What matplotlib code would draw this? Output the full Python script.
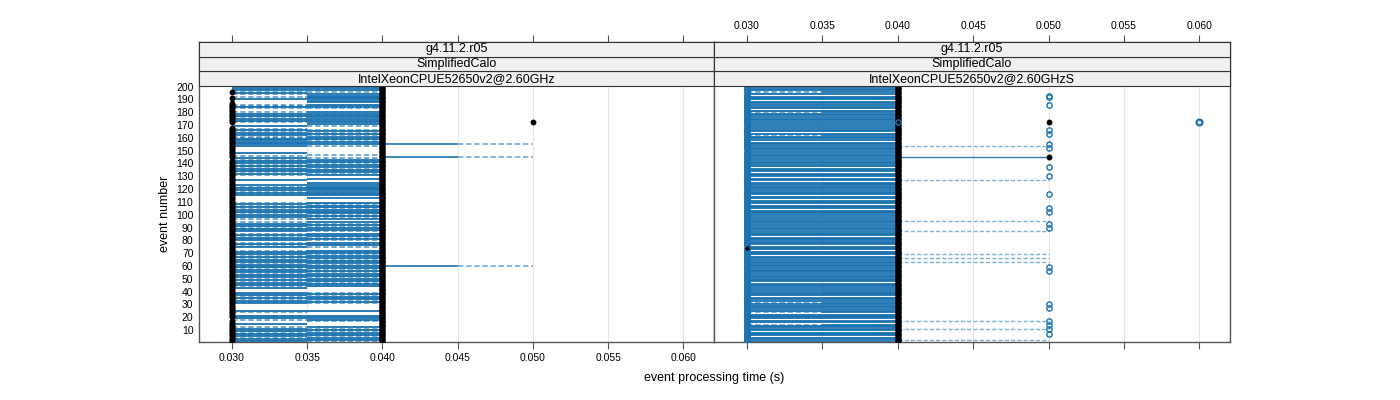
import numpy as np
import matplotlib
matplotlib.use("Agg")
import matplotlib.pyplot as plt
from matplotlib.patches import Rectangle
from matplotlib.ticker import FormatStrFormatter

plt.rcParams['font.family'] = ['Liberation Sans', 'DejaVu Sans']

# --- data ---
events = np.arange(1, 201)
strip_top = ["g4.11.2.r05", "g4.11.2.r05"]
strip_mid = ["SimplifiedCalo", "SimplifiedCalo"]
strip_cpu = ["IntelXeonCPUE52650v2@2.60GHz", "IntelXeonCPUE52650v2@2.60GHzS"]
x_ticks = [0.030, 0.035, 0.040, 0.045, 0.050, 0.055, 0.060]
y_ticks = list(range(10, 201, 10))

t_lo, t_mid, t_hi = 0.030, 0.035, 0.040

# per-event line style, event 1 -> 200 (s = solid, d = dashed, . = none)
left_first = ("sdsdsdsdsd" "sd..s..dsd" "s..ds....." "sdsdsdsds." "..sdsdsdsd"
              "sdsdsdsdsd" "sdsdsdsdsd" "sd..sdsd.s" "dsdsd.sdsd" "sdsd..dsds"
              "dsdsdsdsd." "....sdsdsd" "sds...s..." "dsdsdsdsds" "dsds.d.s.."
              "...ssssssd" "dsdsdsd.s." ".dsdsdsdsd" "..dsdd...s" ".d.dsdsds.")
left_second = ("dsdsdsdsds" "ds....dssd" "s...s....." "dsdsdsdsd." "...sdsdsds"
               "dsdsdsdsds" "dsdsdsdsds" "ds..dsds.d" "sdsds.dsds" "dsds..sdsd"
               "ssdsdssds." "..s.ssdsss" "sss.s..s.." "sdsdsdsdsd" "sdsd..d..."
               "...dsdsdsd" "sdsdsd..d." "sssdsssdss" "..dsds.sss" "ssss.dsdsd")
right_first = ("s.ss.sss.s" "sssd.ss.ss" "ss.dss.sss" "d.sss.ssds" "s.ssss.sss"
               "ss.sssss.s" "sss.sss.ss" "s.sss.ssss" "ss.ssss.ss" "s.sss.ss.s"
               "sss.sss.ss" "s.ss.ssss." "sssds.ss.s" "ss.sss.sss" "s.ss.sss.s"
               "ss.sss.s.s" "sds.ss.ss." "ss.sss.ssd" "s.ss.sss.s" "ss.s.dss.s")

# left panel markers / outliers
left_dot030_missing = [18, 19, 143, 144, 169, 170, 171, 188, 189, 190,
                       192, 193, 194, 195, 197, 198, 199, 200]
left_dot050 = [172]
left_outlier = [60, 145, 155]          # 0.040 -> 0.050

# right panel markers / outliers
right_circ030_missing = [75, 120, 150, 170, 195, 199]
right_dot030 = [74]
right_circ040 = [172]
right_circ050 = [7, 11, 14, 17, 27, 30, 56, 59, 90, 93, 102, 105, 116, 130,
                 137, 152, 155, 163, 166, 186, 192, 193]
right_dot050 = [145, 172]
right_circ060 = [172]
right_dash_out = [2, 11, 17, 63, 66, 69, 87, 95, 127, 154]
right_solid_out = [145]

blue = "#1a72b0"
dash = (0, (3, 1.5))
frame = "#555555"
lw = 1.3

fig = plt.figure(figsize=(14, 4), dpi=100)
plot_frac = 256 / 300
strip_h = (1 - plot_frac) / 3
y_bot, y_top = 0.6, 200.5
ax_top = y_bot + (y_top - y_bot) / plot_frac

axl = fig.add_axes([199 / 1400, 58 / 400, 515 / 1400, 0.75])
axr = fig.add_axes([714 / 1400, 58 / 400, 516 / 1400, 0.75])


def half_lines(ax, codes, x0, x1, solid_all=False):
    ys_s = [e for e, c in zip(events, codes) if c == "s" or (solid_all and c == "d")]
    ys_d = [e for e, c in zip(events, codes) if c == "d" and not solid_all]
    ax.hlines(ys_s, x0, x1, colors=blue, lw=lw, alpha=1.0, zorder=2)
    if ys_d:
        ax.hlines(ys_d, x0, x1, colors=blue, lw=lw, alpha=0.65,
                  linestyles=[dash], zorder=2.1)


# left panel
half_lines(axl, left_first, t_lo, t_mid)
half_lines(axl, left_second, t_mid, t_hi)
axl.hlines(left_outlier, 0.040, 0.045, colors=blue, lw=lw, alpha=0.9, zorder=2)
axl.hlines(left_outlier, 0.045, 0.050, colors=blue, lw=lw, alpha=0.55,
           linestyles=[dash], zorder=2)
ev030 = [e for e in events if e not in left_dot030_missing]
axl.plot([t_lo] * len(ev030), ev030, "o", color="black", ms=3.2, zorder=3)
axl.plot([t_hi] * len(events), events, "o", color="black", ms=3.4, zorder=3)
axl.plot([0.050] * len(left_dot050), left_dot050, "o", color="black", ms=3.2, zorder=3)

# right panel
half_lines(axr, right_first, t_lo, t_mid)
half_lines(axr, right_first, t_mid, t_hi, solid_all=True)
axr.hlines(right_dash_out, 0.040, 0.050, colors=blue, lw=1.0, alpha=0.55,
           linestyles=[dash], zorder=2)
axr.hlines(right_solid_out, 0.040, 0.050, colors=blue, lw=1.0, alpha=0.9, zorder=2)
ev030r = [e for e in events if e not in right_circ030_missing]
circ = dict(marker="o", ls="none", mfc="none", mec=blue, ms=3.8, mew=1.0, zorder=3)
axr.plot([t_lo] * len(ev030r), ev030r, **circ)
axr.plot([t_lo] * len(right_dot030), right_dot030, "o", color="black", ms=2.2, zorder=3.5)
axr.plot([t_hi] * len(events), events, "o", color="black", ms=3.4, zorder=3)
axr.plot([t_hi] * len(right_circ040), right_circ040, **circ)
axr.plot([0.050] * len(right_circ050), right_circ050, **circ)
axr.plot([0.050] * len(right_dot050), right_dot050, "o", color="black", ms=3.2, zorder=3.5)
axr.plot([0.060] * len(right_circ060), right_circ060, marker="o", ls="none",
         mfc="none", mec=blue, ms=4.2, mew=1.6, zorder=3)

for i, ax in enumerate([axl, axr]):
    ax.set_xlim(0.02781, 0.06203)
    ax.set_ylim(y_bot, ax_top)
    ax.set_xticks(x_ticks)
    ax.xaxis.set_major_formatter(FormatStrFormatter("%.3f"))
    for x in x_ticks:
        ax.axvline(x, color="#e6e6e6", lw=0.8, zorder=0)
    for s in ax.spines.values():
        s.set_color(frame)
        s.set_linewidth(1.0)
    ax.tick_params(axis="x", direction="out", length=5, width=0.8, color=frame,
                   labelsize=7.5, pad=3, top=True)
    # strips
    labels = [strip_cpu[i], strip_mid[i], strip_top[i]]
    for k, lab in enumerate(labels):
        y0 = plot_frac + k * strip_h
        ax.add_patch(Rectangle((0, y0), 1, strip_h, transform=ax.transAxes,
                               facecolor="#f0f0f0", edgecolor="#333333", lw=0.8,
                               clip_on=False, zorder=5))
        ax.text(0.5, y0 + strip_h / 2, lab, transform=ax.transAxes, ha="center",
                va="center", fontsize=9, zorder=6)

axl.tick_params(axis="x", labelbottom=True, labeltop=False)
axr.tick_params(axis="x", labelbottom=False, labeltop=True)
axl.set_yticks(y_ticks)
axl.tick_params(axis="y", length=0, labelsize=7.5, pad=4)
axr.set_yticks([])

fig.text(714 / 1400, 1 - 378 / 400, "event processing time (s)", ha="center",
         va="center", fontsize=9)
fig.text(165 / 1400, 1 - 214 / 400, "event number", ha="center", va="center",
         rotation=90, fontsize=9)

fig.savefig("out.png", dpi=100)
